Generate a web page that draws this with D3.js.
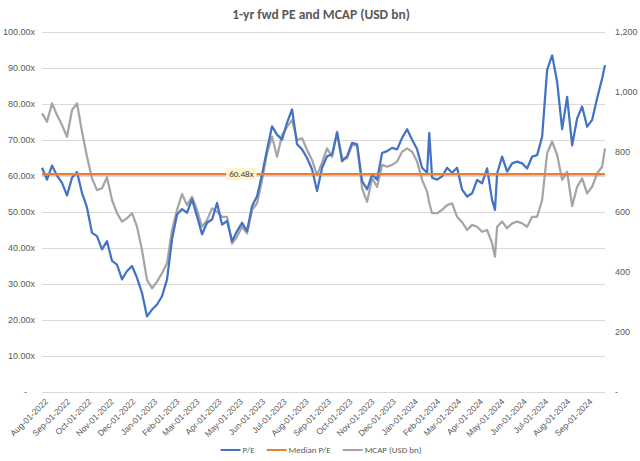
<!DOCTYPE html>
<html>
<head>
<meta charset="utf-8">
<script src="https://cdn.jsdelivr.net/npm/d3@7"></script>
<style>
  html, body { margin: 0; padding: 0; background: #ffffff; }
  svg { display: block; font-family: Calibri, Carlito, Lato, "Open Sans", sans-serif; }
</style>
</head>
<body>
<svg id="chart" width="640" height="461"></svg>
<script>
const dates = [
"2022-08-01","2022-08-08","2022-08-15","2022-08-22","2022-08-29",
"2022-09-05","2022-09-12","2022-09-19","2022-09-26",
"2022-10-03","2022-10-10","2022-10-17","2022-10-24","2022-10-31",
"2022-11-07","2022-11-14","2022-11-21","2022-11-28",
"2022-12-05","2022-12-12","2022-12-19","2022-12-26",
"2023-01-02","2023-01-09","2023-01-16","2023-01-23","2023-01-30",
"2023-02-06","2023-02-13","2023-02-20","2023-02-27",
"2023-03-06","2023-03-13","2023-03-20","2023-03-27",
"2023-04-03","2023-04-10","2023-04-17","2023-04-24",
"2023-05-01","2023-05-08","2023-05-15","2023-05-22","2023-05-29",
"2023-06-05","2023-06-12","2023-06-19","2023-06-26",
"2023-07-03","2023-07-10","2023-07-17","2023-07-24","2023-07-31",
"2023-08-07","2023-08-14","2023-08-21","2023-08-28",
"2023-09-04","2023-09-11","2023-09-18","2023-09-25",
"2023-10-02","2023-10-09","2023-10-16","2023-10-23","2023-10-30",
"2023-11-06","2023-11-13","2023-11-20","2023-11-27",
"2023-12-04","2023-12-11","2023-12-18","2023-12-25",
"2024-01-01","2024-01-08","2024-01-15","2024-01-22","2024-01-25","2024-01-29",
"2024-02-05","2024-02-12","2024-02-19","2024-02-26",
"2024-03-04","2024-03-11","2024-03-18","2024-03-25",
"2024-04-01","2024-04-08","2024-04-15","2024-04-22","2024-04-26","2024-04-29",
"2024-05-06","2024-05-13","2024-05-20","2024-05-27",
"2024-06-03","2024-06-10","2024-06-17","2024-06-24",
"2024-07-01","2024-07-08","2024-07-15","2024-07-22","2024-07-29",
"2024-08-05","2024-08-12","2024-08-19","2024-08-26",
"2024-09-02","2024-09-09","2024-09-16","2024-09-23","2024-09-27"
];

const peValues = [
62.3, 59.0, 62.9, 60.1, 58.1,
54.6, 59.5, 61.1, 55.3,
51.2, 44.2, 43.3, 39.6, 41.9,
36.4, 35.4, 31.3, 33.6,
35.0, 31.7, 27.5, 21.0,
22.9, 24.3, 26.6, 31.3, 42.4,
49.3, 50.8, 49.8, 53.5,
48.8, 43.8, 47.0, 47.9,
52.5, 46.5, 47.5, 41.9,
44.7, 47.0, 44.7, 51.6, 54.4,
60.4, 67.4, 73.8, 71.5,
70.1, 74.8, 78.5, 68.8, 67.4,
65.0, 61.8, 55.8, 62.3,
65.5, 66.0, 72.0, 64.1,
65.5, 69.2, 68.8, 58.6, 56.3,
60.4, 59.0, 66.4, 66.9,
67.8, 67.4, 70.6, 73.0,
70.1, 67.4, 62.3, 60.9, 72.0, 59.5,
59.0, 59.9, 62.3, 60.9,
62.3, 56.2, 54.3, 55.2,
58.9, 58.0, 62.1, 53.3, 50.6, 60.7,
65.4, 61.2, 63.5, 64.0,
63.5, 62.1, 65.4, 65.8,
70.9, 89.5, 93.5, 86.2, 73.0,
82.0, 68.5, 76.0, 79.3,
73.7, 75.6, 81.6, 87.1, 90.8
];

const mcapValues = [
929, 901, 962, 923, 890,
851, 940, 962, 868,
784, 712, 673, 679, 716,
640, 596, 568, 579,
596, 551, 473, 373,
346, 368, 396, 429, 540,
607, 660, 623, 651,
607, 551, 573, 612,
601, 584, 584, 495,
518, 551, 529, 607, 629,
707, 796, 851, 784,
857, 884, 907, 840, 846,
807, 773, 723, 765,
812, 784, 868, 779,
779, 823, 823, 679, 634,
712, 684, 757, 751,
757, 768, 801, 812,
801, 768, 707, 668, 630, 596,
596, 607, 623, 629,
584, 566, 540, 557,
551, 534, 540, 496, 451, 551,
568, 546, 562, 568,
562, 551, 584, 584,
640, 796, 835, 790, 707,
734, 620, 684, 712,
662, 684, 729, 751, 812
];

const medianPE = 60.48;
const medianLabelDate = "2023-05-07";
const leftTicks = [0, 10, 20, 30, 40, 50, 60, 70, 80, 90, 100];
const rightTicks = [0, 200, 400, 600, 800, 1000, 1200];
const monthTicks = [
"2022-08-01","2022-09-01","2022-10-01","2022-11-01","2022-12-01",
"2023-01-01","2023-02-01","2023-03-01","2023-04-01","2023-05-01","2023-06-01",
"2023-07-01","2023-08-01","2023-09-01","2023-10-01","2023-11-01","2023-12-01",
"2024-01-01","2024-02-01","2024-03-01","2024-04-01","2024-05-01","2024-06-01",
"2024-07-01","2024-08-01","2024-09-01"
];
const seriesNames = ["P/E", "Median P/E", "MCAP (USD bn)"];
const title = "1-yr fwd PE and MCAP (USD bn)";

if (peValues.length !== dates.length || mcapValues.length !== dates.length) {
  throw new Error("length mismatch " + dates.length + " " + peValues.length + " " + mcapValues.length);
}

const parse = d3.timeParse("%Y-%m-%d");
const fmt = d3.timeFormat("%b-%d-%Y");
const data = dates.map((d, i) => ({ date: parse(d), pe: peValues[i], mcap: mcapValues[i] }));

const colors = { pe: "#4472C4", median: "#ED7D31", mcap: "#A5A5A5" };
const textColor = "#595959";

const plot = { left: 42, right: 605, top: 32, bottom: 392 };

const svg = d3.select("#chart");

const x = d3.scaleTime()
  .domain([parse(dates[0]), parse(dates[dates.length - 1])])
  .range([plot.left, plot.right]);
const yL = d3.scaleLinear().domain([0, 100]).range([plot.bottom, plot.top]);
const yR = d3.scaleLinear().domain([0, 1200]).range([plot.bottom, plot.top]);

// title
svg.append("text")
  .attr("x", 321).attr("y", 19)
  .attr("text-anchor", "middle")
  .attr("font-size", 13.5).attr("font-weight", 600)
  .attr("fill", textColor)
  .text(title);

// gridlines
svg.append("g").selectAll("line").data(leftTicks).join("line")
  .attr("x1", plot.left).attr("x2", plot.right)
  .attr("y1", d => yL(d) + 0.5).attr("y2", d => yL(d) + 0.5)
  .attr("stroke", "#D9D9D9").attr("stroke-width", 1);

// left axis
const gL = svg.append("g").attr("transform", `translate(${plot.left},0)`)
  .call(d3.axisLeft(yL).tickValues(leftTicks).tickSize(0).tickPadding(7)
    .tickFormat(d => d === 0 ? "-" : d.toFixed(2) + "x"));
gL.select(".domain").remove();
gL.selectAll("text").attr("font-size", 9).attr("fill", textColor).attr("font-family", null);
gL.selectAll(".tick").filter(d => d === 0).select("text").attr("dx", -8);

// right axis
const gR = svg.append("g").attr("transform", `translate(${plot.right},0)`)
  .call(d3.axisRight(yR).tickValues(rightTicks).tickSize(0).tickPadding(10)
    .tickFormat(d => d === 0 ? "-" : d3.format(",")(d)));
gR.select(".domain").remove();
gR.selectAll("text").attr("font-size", 9).attr("fill", textColor).attr("font-family", null);

// x axis labels
const gX = svg.append("g").attr("transform", `translate(0,${plot.bottom})`)
  .call(d3.axisBottom(x).tickValues(monthTicks.map(parse)).tickSize(0).tickFormat(fmt));
gX.select(".domain").remove();
gX.selectAll("text")
  .attr("font-size", 8.5).attr("fill", textColor).attr("font-family", null)
  .attr("text-anchor", "end")
  .attr("transform", "translate(4,8) rotate(-45)")
  .attr("dy", "0.35em").attr("y", 0);

// lines
const lineMcap = d3.line().x(d => x(d.date)).y(d => yR(d.mcap));
const linePE = d3.line().x(d => x(d.date)).y(d => yL(d.pe));

svg.append("path").datum(data)
  .attr("d", lineMcap).attr("fill", "none")
  .attr("stroke", colors.mcap).attr("stroke-width", 2.25).attr("stroke-linejoin", "round");

svg.append("path").datum(data)
  .attr("d", linePE).attr("fill", "none")
  .attr("stroke", colors.pe).attr("stroke-width", 2.25).attr("stroke-linejoin", "round");

// median
svg.append("line")
  .attr("x1", x(parse(dates[0]))).attr("x2", x(parse(dates[dates.length - 1])))
  .attr("y1", yL(medianPE)).attr("y2", yL(medianPE))
  .attr("stroke", colors.median).attr("stroke-width", 2.5);

// median label
const lx = x(parse(medianLabelDate));
const lbl = svg.append("g").attr("transform", `translate(${lx},${yL(medianPE)})`);
const lt = lbl.append("text").attr("text-anchor", "middle").attr("dy", "0.35em")
  .attr("font-size", 9).attr("fill", "#404040").text(medianPE.toFixed(2) + "x");
const bb = lt.node().getBBox();
lbl.insert("rect", "text")
  .attr("x", bb.x - 3).attr("y", -6).attr("width", bb.width + 6).attr("height", 12)
  .attr("fill", "#FFF2CC");

// legend
const legendItems = [
  { name: seriesNames[0], color: colors.pe },
  { name: seriesNames[1], color: colors.median },
  { name: seriesNames[2], color: colors.mcap }
];
const lg = svg.append("g");
let cx = 0;
legendItems.forEach((it, i) => {
  const g = lg.append("g").attr("transform", `translate(${cx},0)`);
  g.append("line").attr("x1", 0).attr("x2", 20).attr("y1", 0).attr("y2", 0)
    .attr("stroke", it.color).attr("stroke-width", 2);
  const t = g.append("text").attr("x", 22).attr("dy", "0.35em")
    .attr("font-size", 9).attr("fill", textColor).text(it.name);
  cx += 22 + t.node().getComputedTextLength() + 12;
});
const lw = cx - 12;
lg.attr("transform", `translate(${321 - lw / 2},450)`);
</script>
</body>
</html>
